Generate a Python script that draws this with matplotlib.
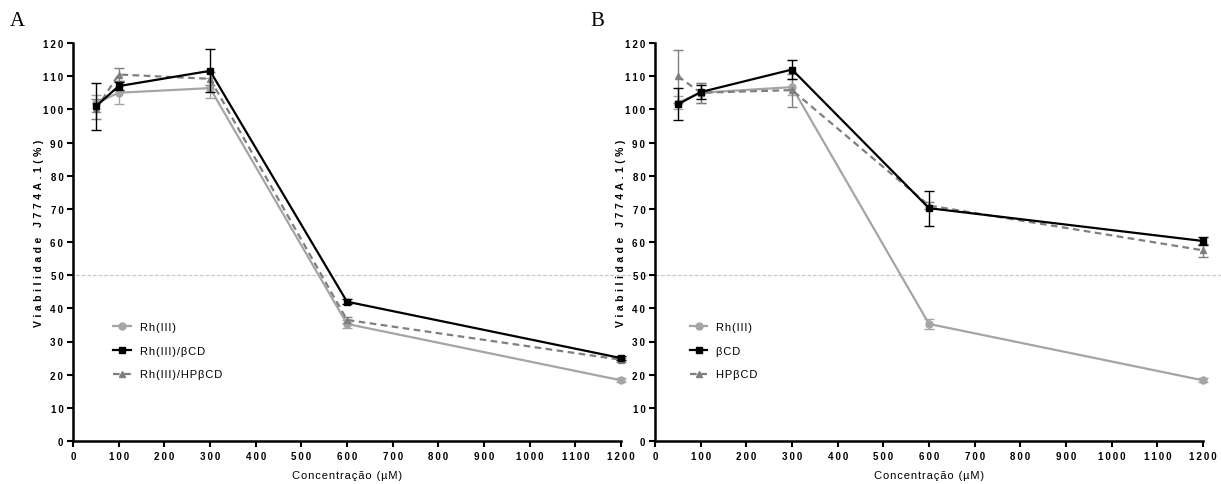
import matplotlib
matplotlib.use("Agg")
import matplotlib.pyplot as plt
from matplotlib.lines import Line2D
from matplotlib.transforms import blended_transform_factory

plt.rcParams['font.family'] = ['Liberation Sans', 'DejaVu Sans']

# Concentrations (µM)
conc = [50, 100, 300, 600, 1200]

# Panel A
a_rh = [101.8, 105.0, 106.4, 35.3, 18.3]
a_rh_err = [2.5, 3.5, 3.0, 1.2, 0.6]
a_bcd = [100.9, 107.0, 111.6, 42.0, 25.0]
a_bcd_err = [7.1, 1.2, 6.5, 0.8, 0.6]
a_hp = [100.0, 110.5, 109.2, 36.5, 24.5]
a_hp_err = [3.0, 2.0, 2.0, 1.0, 0.6]
a_labels = ["Rh(III)", "Rh(III)/βCD", "Rh(III)/HPβCD"]

# Panel B
b_rh = [102.0, 105.0, 106.7, 35.3, 18.3]
b_rh_err = [2.0, 3.0, 2.5, 1.5, 0.6]
b_bcd = [101.5, 105.2, 112.0, 70.2, 60.3]
b_bcd_err = [4.8, 2.0, 3.0, 5.3, 1.2]
b_hp = [110.0, 105.0, 105.8, 71.0, 57.5]
b_hp_err = [8.0, 3.0, 5.0, 1.0, 2.0]
b_labels = ["Rh(III)", "βCD", "HPβCD"]

xticks = list(range(0, 1201, 100))
yticks = list(range(0, 121, 10))

y_title = "Viabilidade J774A.1(%)"
x_title = "Concentração (µM)"

c_rh = "#a5a5a5"
c_bcd = "#000000"
c_hp = "#7f7f7f"

HAIR = "\u200a"
THIN = "\u2009"
THIRD = "\u2004"


def spaced(s, sep):
    """Insert a spacing character between glyphs (tracked lettering)."""
    return sep.join(s)


fig = plt.figure(figsize=(12.21, 4.85), dpi=100)
W, H = 1221, 485
axA = fig.add_axes([73 / W, 1 - 442 / H, 548 / W, 398 / H])
axB = fig.add_axes([655 / W, 1 - 442 / H, 548 / W, 398 / H])


def draw_panel(ax, rh, rh_e, bcd, bcd_e, hp, hp_e, labels, lx):
    ax.set_facecolor('none')
    h1 = ax.errorbar(conc, rh, yerr=rh_e, color=c_rh, lw=1.6, marker='o', ms=5,
                     capsize=3.5, elinewidth=1.0, capthick=1.0,
                     clip_on=False, zorder=3)
    h2 = ax.errorbar(conc, bcd, yerr=bcd_e, color=c_bcd, lw=1.6, marker='s', ms=5,
                     capsize=3.5, elinewidth=1.0, capthick=1.0,
                     clip_on=False, zorder=4)
    h3 = ax.errorbar(conc, hp, yerr=hp_e, color=c_hp, lw=1.6, ls=(0, (3, 2)),
                     marker='^', ms=5, capsize=3.5, elinewidth=1.0, capthick=1.0,
                     clip_on=False, zorder=3)
    ax.set_xlim(0, 1200)
    ax.set_ylim(0, 120)
    ax.set_xticks(xticks)
    ax.set_xticklabels([spaced(str(v), THIN) for v in xticks])
    ax.set_yticks(yticks)
    ax.set_yticklabels([spaced(str(v), THIN) for v in yticks])
    for s in ('top', 'right'):
        ax.spines[s].set_visible(False)
    for s in ('left', 'bottom'):
        ax.spines[s].set_linewidth(1.8)
    ax.tick_params(direction='out', length=4, width=1.5, labelsize=7, pad=3)
    for t in ax.get_xticklabels() + ax.get_yticklabels():
        t.set_fontweight('bold')
    ax.set_xlabel(spaced(x_title, HAIR), fontsize=8, va='top')
    ax.xaxis.set_label_coords(0.5, -0.072)
    ax.set_ylabel(spaced(y_title, THIRD), fontsize=7.5, fontweight='bold',
                  va='center')
    ax.yaxis.set_label_coords(-0.062, 0.525)
    hs = [h[0] for h in (h1, h2, h3)]
    ax.legend(hs, [spaced(l, HAIR) for l in labels], loc='upper left',
              bbox_to_anchor=(lx, 0.325), frameon=False, fontsize=8,
              labelspacing=1.25, handlelength=1.6, handletextpad=0.8)


draw_panel(axA, a_rh, a_rh_err, a_bcd, a_bcd_err, a_hp, a_hp_err, a_labels, 0.055)
draw_panel(axB, b_rh, b_rh_err, b_bcd, b_bcd_err, b_hp, b_hp_err, b_labels, 0.045)

# 50 % reference line across both panels
tr = blended_transform_factory(fig.transFigure, axA.transData)
fig.add_artist(Line2D([70 / W, 1.0], [50, 50], transform=tr, color="#c8c8c8",
                      lw=0.9, ls=(0, (3, 1.5)), zorder=-1))

fig.text(10 / W, 1 - 22 / H, "A", fontsize=15, family='Liberation Serif', va='center')
fig.text(590 / W, 1 - 22 / H, "B", fontsize=15, family='Liberation Serif', va='center')

fig.savefig("out.png", dpi=100)
